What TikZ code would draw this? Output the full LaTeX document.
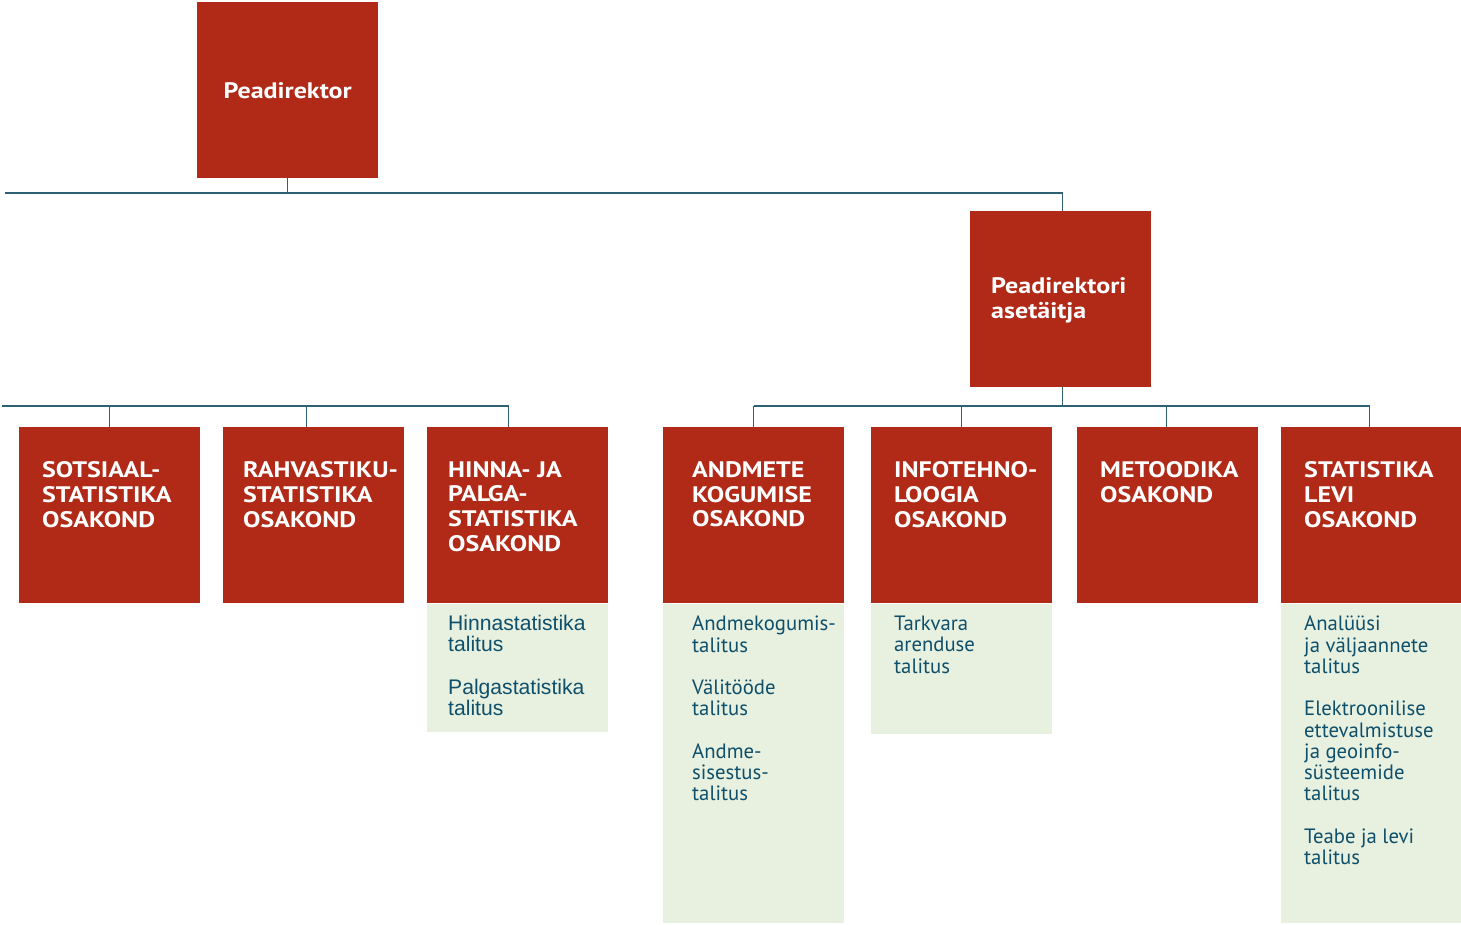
\documentclass[tikz,border=0pt]{standalone}
\usepackage{fontspec}
\setmainfont{PT Sans}
\newfontfamily\arialf{Liberation Sans}
\newfontfamily\headf[FakeStretch=1.16]{PT Sans}
\definecolor{boxred}{HTML}{B02A17}
\definecolor{subgreen}{HTML}{E8F1DF}
\definecolor{subtext}{HTML}{0E4F6B}
\definecolor{linec}{HTML}{2E6176}
\tikzset{
  redbox/.style={fill=boxred, draw=none, minimum width=181bp, minimum height=176bp, inner sep=0pt, anchor=north west},
  greenbox/.style={fill=subgreen, draw=none, minimum width=181bp, inner sep=0pt, anchor=north west},
  headtext/.style={text=white, font={\fontsize{22.5}{25}\headf\bfseries}, align=left, inner sep=0pt, anchor=north west},
  subtxt/.style={text=subtext, font={\fontsize{20.8}{21.3}\selectfont}, align=left, inner sep=0pt, anchor=north west},
  conn/.style={draw=linec, line width=1.4bp}
}
\begin{document}
\begin{tikzpicture}[x=1bp,y=-1bp]
\useasboundingbox (0,0) rectangle (1461,924);
% top boxes
\node[redbox] (pd) at (197,2) {};
\node[text=white, font={\fontsize{22.5}{25}\headf\bfseries}, inner sep=0pt] (pdt) at (pd.center) {Peadirektor};
\node[redbox] (asc) at (970,211) {};
\node[headtext] (asct) at (991,277) {Peadirektori\\asetäitja};
% departments
\node[redbox] (d1) at (19,427) {};
\node[redbox] (d2) at (223,427) {};
\node[redbox] (d3) at (427,427) {};
\node[redbox] (d4) at (663,427) {};
\node[redbox] (d5) at (871,427) {};
\node[redbox] (d6) at (1077,427) {};
\node[redbox, minimum width=180bp] (d7) at (1281,427) {};
\node[headtext] (d1t) at (42,461) {SOTSIAAL-\\STATISTIKA\\OSAKOND};
\node[headtext] (d2t) at (243,461) {RAHVASTIKU-\\STATISTIKA\\OSAKOND};
\node[headtext] (d3t) at (448,461) {HINNA- JA\\PALGA-\\STATISTIKA\\OSAKOND};
\node[headtext] (d4t) at (692,461) {ANDMETE\\KOGUMISE\\OSAKOND};
\node[headtext] (d5t) at (894,461) {INFOTEHNO-\\LOOGIA\\OSAKOND};
\node[headtext] (d6t) at (1100,461) {METOODIKA\\OSAKOND};
\node[headtext] (d7t) at (1304,461) {STATISTIKA\\LEVI\\OSAKOND};
% sub units
\node[greenbox, minimum height=128bp] (g3) at (d3.south west) {};
\node[greenbox, minimum height=319bp] (g4) at (d4.south west) {};
\node[greenbox, minimum height=130bp] (g5) at (d5.south west) {};
\node[greenbox, minimum height=319bp, minimum width=180bp] (g7) at (d7.south west) {};
\node[subtxt, font={\fontsize{21.2}{21.3}\selectfont\arialf}] (g3t) at (448,615) {Hinnastatistika\\talitus\\[21.3bp]Palgastatistika\\talitus};
\node[subtxt] (g4t) at (692,616) {Andmekogumis-\\talitus\\[21.3bp]Välitööde\\talitus\\[21.3bp]Andme-\\sisestus-\\talitus};
\node[subtxt] (g5t) at (894,616) {Tarkvara\\arenduse\\talitus};
\node[subtxt] (g7t) at (1304,616) {Analüüsi\\ja väljaannete\\talitus\\[21.3bp]Elektroonilise\\ettevalmistuse\\ja geoinfo-\\süsteemide\\talitus\\[21.3bp]Teabe ja levi\\talitus};
% connectors
\coordinate (topbar) at (5,193);
\coordinate (leftbar) at (2,406);
\draw[conn] (pd.south) -- (pd.south |- topbar);
\draw[conn] (topbar) -- ([xshift=1.5bp]asc.north |- topbar) -- ([xshift=1.5bp]asc.north);
\draw[conn] (leftbar) -- ([xshift=-9.5bp]d3.north |- leftbar) -- ([xshift=-9.5bp]d3.north);
\draw[conn] (d1.north |- leftbar) -- (d1.north);
\draw[conn] ([xshift=-7.5bp]d2.north |- leftbar) -- ([xshift=-7.5bp]d2.north);
\coordinate (rightbar) at ([xshift=1.5bp]asc.south |- leftbar);
\draw[conn] ([xshift=1.5bp]asc.south) -- (rightbar);
\draw[conn] (d4.north |- leftbar) -- ([xshift=-2bp]d7.north |- leftbar) -- ([xshift=-2bp]d7.north);
\draw[conn] (d4.north |- leftbar) -- (d4.north);
\draw[conn] (d5.north |- leftbar) -- (d5.north);
\draw[conn] ([xshift=-1.5bp]d6.north |- leftbar) -- ([xshift=-1.5bp]d6.north);
\end{tikzpicture}
\end{document}
